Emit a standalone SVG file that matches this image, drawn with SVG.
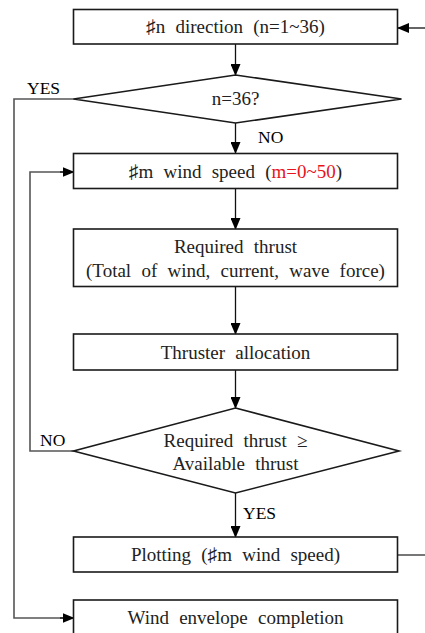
<svg xmlns="http://www.w3.org/2000/svg" width="425" height="633" viewBox="0 0 425 633">
<style>
.box{fill:#fff;stroke:#1a1a1a;stroke-width:1.6}
.t{font-family:"Liberation Serif","DejaVu Serif",serif;font-size:19px;fill:#222;text-anchor:middle;word-spacing:5.5px}
.lbl{font-family:"Liberation Serif",serif;font-size:17.5px;fill:#000}
.c{fill:none;stroke:#111;stroke-width:1.3}
.g{fill:none;stroke:#555;stroke-width:1.6}
</style>
<defs>
<marker id="ah" markerWidth="12" markerHeight="10" refX="11" refY="5" orient="auto" markerUnits="userSpaceOnUse">
<path d="M0,0 L12,5 L0,10 Z" fill="#000"/>
</marker>
</defs>
<rect width="425" height="633" fill="#fff"/>
<g id="connectors">
<line class="c" x1="425" y1="28" x2="398" y2="28" marker-end="url(#ah)"/>
<line class="c" x1="235.5" y1="44" x2="235.5" y2="75" marker-end="url(#ah)"/>
<line class="c" x1="235.5" y1="123" x2="235.5" y2="153" marker-end="url(#ah)"/>
<line class="c" x1="235.5" y1="189" x2="235.5" y2="229" marker-end="url(#ah)"/>
<line class="c" x1="235.5" y1="287" x2="235.5" y2="334" marker-end="url(#ah)"/>
<line class="c" x1="235.5" y1="370" x2="235.5" y2="408" marker-end="url(#ah)"/>
<line class="c" x1="235.5" y1="493" x2="235.5" y2="537" marker-end="url(#ah)"/>
<polyline class="g" points="74,99 14,99 14,618 66,618"/>
<line class="c" x1="60" y1="618" x2="73.5" y2="618" marker-end="url(#ah)"/>
<polyline class="g" points="74,451 30,451 30,172 66,172"/>
<line class="c" x1="60" y1="172" x2="73.5" y2="172" marker-end="url(#ah)"/>
<line class="g" x1="397" y1="555" x2="425" y2="555"/>
</g>
<g id="lbl-yes1"><text class="lbl" x="27" y="94">YES</text></g>
<g id="lbl-no1"><text class="lbl" x="258" y="143">NO</text></g>
<g id="lbl-no2"><text class="lbl" x="40" y="446">NO</text></g>
<g id="lbl-yes2"><text class="lbl" x="243" y="519">YES</text></g>
<g id="n1">
<rect class="box" x="73.5" y="9.5" width="324" height="34.5"/>
<text class="t" x="235.5" y="33">♯n direction (n=1~36)</text>
</g>
<g id="n2">
<polygon class="box" points="235.5,75 401.5,99 235.5,123 73.5,99"/>
<text class="t" x="235.5" y="105">n=36?</text>
</g>
<g id="n3">
<rect class="box" x="73.5" y="153.5" width="324" height="35"/>
<text class="t" x="235.5" y="178">♯m wind speed (<tspan fill="#e8131b">m=0~50</tspan>)</text>
</g>
<g id="n4">
<rect class="box" x="73.5" y="229" width="324" height="57.5"/>
<text class="t" x="235.5" y="253">Required thrust</text>
<text class="t" x="235.5" y="277">(Total of wind, current, wave force)</text>
</g>
<g id="n5">
<rect class="box" x="73.5" y="334" width="324" height="36"/>
<text class="t" x="235.5" y="358.5">Thruster allocation</text>
</g>
<g id="n6">
<polygon class="box" points="235.5,408 399,451 235.5,493 73.5,451"/>
<text class="t" x="235.5" y="447">Required thrust ≥</text>
<text class="t" x="235.5" y="470">Available thrust</text>
</g>
<g id="n7">
<rect class="box" x="73.5" y="537" width="324" height="35"/>
<text class="t" x="235.5" y="561">Plotting (♯m wind speed)</text>
</g>
<g id="n8">
<rect class="box" x="73.5" y="600" width="324" height="40"/>
<text class="t" x="235.5" y="624">Wind envelope completion</text>
</g>
</svg>
